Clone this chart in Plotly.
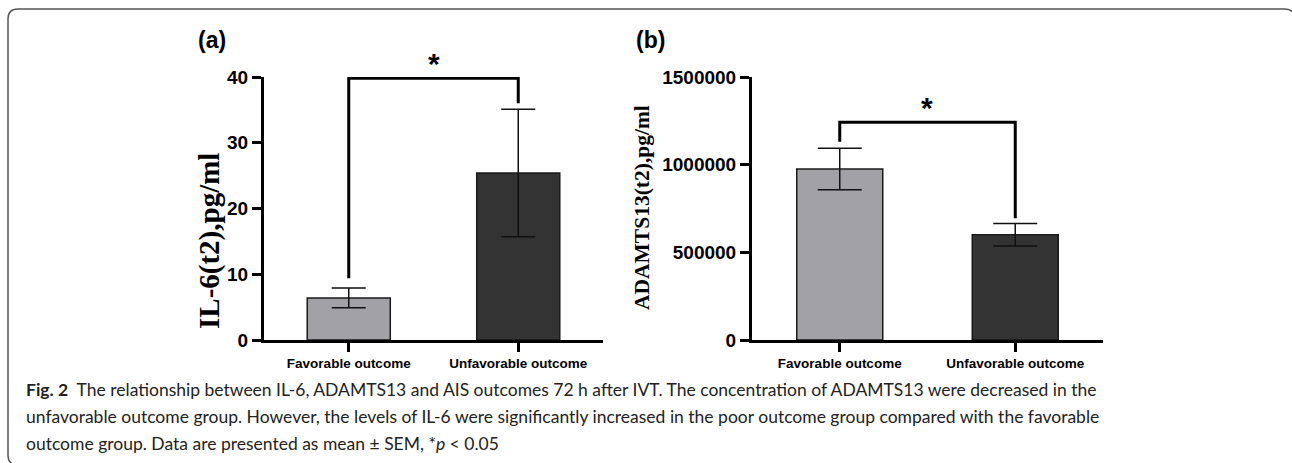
import plotly.graph_objects as go

# ---------------- data ----------------
categories = ["Favorable outcome", "Unfavorable outcome"]
il6_mean = [6.4, 25.4]
il6_sem = [1.5, 9.7]
adamts_mean = [975000, 600000]
adamts_sem = [118000, 64000]
il6_ticks = [0, 10, 20, 30, 40]
adamts_ticks = [0, 500000, 1000000, 1500000]

# significance brackets (data units): top, left leg end, right leg end
il6_bracket = [39.8, 9.4, 36.0]
adamts_bracket = [1242000, 1131000, 694000]

caption_lines = [
    "<b>Fig. 2</b>  The relationship between IL-6, ADAMTS13 and AIS outcomes 72 h after IVT. The concentration of ADAMTS13 were decreased in the",
    "unfavorable outcome group. However, the levels of IL-6 were significantly increased in the poor outcome group compared with the favorable",
    "outcome group. Data are presented as mean ± SEM, *<i>p</i> < 0.05",
]

W, H = 1292, 463
def px(x):
    return x / W
def py(y):
    return 1 - y / H

bar_colors = ["#a2a2a6", "#333333"]

fig = go.Figure()
fig.add_trace(go.Bar(
    x=[0, 1], y=il6_mean, width=0.49, xaxis="x", yaxis="y",
    marker=dict(color=bar_colors, line=dict(color="#1a1a1a", width=1.5)),
    error_y=dict(type="data", array=il6_sem, visible=True, color="#111111", thickness=1.5, width=17),
    showlegend=False, hoverinfo="skip",
))
fig.add_trace(go.Bar(
    x=[0, 1], y=adamts_mean, width=0.49, xaxis="x2", yaxis="y2",
    marker=dict(color=bar_colors, line=dict(color="#1a1a1a", width=1.5)),
    error_y=dict(type="data", array=adamts_sem, visible=True, color="#111111", thickness=1.5, width=22),
    showlegend=False, hoverinfo="skip",
))

axis_common = dict(showline=True, linewidth=3, linecolor="black", ticks="outside",
                   ticklen=9, tickwidth=3, tickcolor="black", showgrid=False, zeroline=False,
                   automargin=False, fixedrange=True)

tickfont_y = dict(family="Liberation Sans, Arial", size=19, color="black", weight="bold")
tickfont_x = dict(family="Liberation Sans, Arial", size=13.5, color="black", weight="bold")

fig.update_layout(
    width=W, height=H, margin=dict(l=0, r=0, t=0, b=0, pad=0, autoexpand=False),
    paper_bgcolor="white", plot_bgcolor="white",
    bargap=0,
    xaxis=dict(domain=[px(264), px(603)], range=[-0.5, 1.5], tickvals=[0, 1], ticktext=categories,
               tickfont=tickfont_x, anchor="y", **axis_common),
    yaxis=dict(domain=[py(340), py(77)], range=[0, 40], tickvals=il6_ticks,
               tickfont=tickfont_y, anchor="x", **axis_common),
    xaxis2=dict(domain=[px(752), px(1103)], range=[-0.5, 1.5], tickvals=[0, 1], ticktext=categories,
                tickfont=tickfont_x, anchor="y2", **axis_common),
    yaxis2=dict(domain=[py(340), py(77)], range=[0, 1500000], tickvals=adamts_ticks,
                tickformat="d", tickfont=tickfont_y, anchor="x2", **axis_common),
)

shapes = []
for xa, ya, br in [("x", "y", il6_bracket), ("x2", "y2", adamts_bracket)]:
    top, left_end, right_end = br
    shapes.append(dict(type="path", xref=xa, yref=ya,
                       path=f"M 0,{left_end} L 0,{top} L 1,{top} L 1,{right_end}",
                       line=dict(color="black", width=3)))

# outer rounded frame
r = 10
x0, y0, x1, y1 = 8, 9, 1296, 465
frame = (f"M {px(x0 + r)},{py(y1)} Q {px(x0)},{py(y1)} {px(x0)},{py(y1 - r)} "
         f"L {px(x0)},{py(y0 + r)} Q {px(x0)},{py(y0)} {px(x0 + r)},{py(y0)} "
         f"L {px(x1 - 12)},{py(y0)} Q {px(x1)},{py(y0)} {px(x1)},{py(y0 + 12)} L {px(x1)},{py(y1)}")
shapes.append(dict(type="path", xref="paper", yref="paper", path=frame,
                   line=dict(color="#555555", width=1.5)))
fig.update_layout(shapes=shapes)

ann = []
# stars
for xa, ya, br in [("x", "y", il6_bracket), ("x2", "y2", adamts_bracket)]:
    ann.append(dict(x=0.5, y=br[0], xref=xa, yref=ya, text="<b>*</b>", showarrow=False,
                    xanchor="center", yanchor="bottom", yshift=-4,
                    font=dict(family="Liberation Sans, Arial", size=30, color="black")))
# panel labels
ann.append(dict(x=px(212), y=py(40), xref="paper", yref="paper", text="(a)", showarrow=False,
                xanchor="center", yanchor="middle",
                font=dict(family="Liberation Sans, Arial", size=23, color="black", weight="bold")))
ann.append(dict(x=px(650), y=py(40), xref="paper", yref="paper", text="(b)", showarrow=False,
                xanchor="center", yanchor="middle",
                font=dict(family="Liberation Sans, Arial", size=23, color="black", weight="bold")))
# y titles
ann.append(dict(x=px(210), y=py(241), xref="paper", yref="paper", text="IL-6(t2),pg/ml", textangle=-90,
                xanchor="center", yanchor="middle", showarrow=False,
                font=dict(family="Liberation Serif, Times New Roman", size=29, color="black", weight="bold")))
ann.append(dict(x=px(642), y=py(208), xref="paper", yref="paper", text="ADAMTS13(t2),pg/ml", textangle=-90,
                xanchor="center", yanchor="middle", showarrow=False,
                font=dict(family="Liberation Serif, Times New Roman", size=21.5, color="black", weight="bold")))
# caption
for i, line in enumerate(caption_lines):
    ann.append(dict(x=px(24), y=py(389 + 27 * i), xref="paper", yref="paper", text=line,
                    xanchor="left", yanchor="middle", showarrow=False,
                    font=dict(family="Lato", size=17.5, color="#222222")))
fig.update_layout(annotations=ann, hovermode=False, dragmode=False)

fig.write_html("out.html", config={"displayModeBar": False, "staticPlot": True},
               post_script="document.body.style.margin='0';document.body.style.overflow='hidden';")
